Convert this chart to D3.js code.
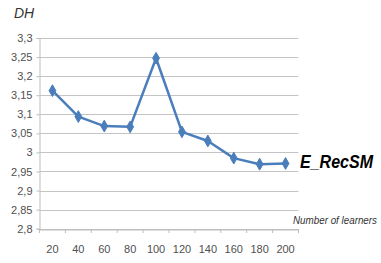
<!DOCTYPE html>
<html>
<head>
<meta charset="utf-8">
<script src="https://cdn.jsdelivr.net/npm/d3@7"></script>
<style>
  body { margin: 0; background: #fff; }
  text { font-family: "Liberation Sans", Arial, sans-serif; fill: #404040; }
</style>
</head>
<body>
<div id="chart"></div>
<script>
// data
var learners = [20, 40, 60, 80, 100, 120, 140, 160, 180, 200];
var dhValues = [3.162, 3.094, 3.069, 3.067, 3.247, 3.054, 3.030, 2.985, 2.969, 2.971];
var yTicks = [2.8, 2.85, 2.9, 2.95, 3, 3.05, 3.1, 3.15, 3.2, 3.25, 3.3];
var seriesName = "E_RecSM";

var width = 381, height = 263;
var plotLeft = 39.5, plotRight = 298.5, plotTop = 38, plotBottom = 228.7;

var svg = d3.select("#chart").append("svg")
    .attr("width", width)
    .attr("height", height);

var x = d3.scaleBand()
    .domain(learners)
    .range([plotLeft, plotRight]);

var y = d3.scaleLinear()
    .domain([2.8, 3.3])
    .range([plotBottom, plotTop]);

var fmt = function(d) { return String(+d.toFixed(2)).replace(".", ","); };

// gridlines
svg.append("g")
  .selectAll("line")
  .data(yTicks)
  .enter().append("line")
    .attr("x1", plotLeft)
    .attr("x2", plotRight)
    .attr("y1", function(d) { return Math.round(y(d)) + 0.5; })
    .attr("y2", function(d) { return Math.round(y(d)) + 0.5; })
    .attr("stroke", "#c4c4c4")
    .attr("stroke-width", 1);

// y axis
var yAxis = svg.append("g")
    .attr("transform", "translate(" + plotLeft + ",0)")
    .call(d3.axisLeft(y).tickValues(yTicks).tickFormat(fmt).tickSize(3).tickPadding(4));
yAxis.select(".domain").attr("stroke", "#bdbdbd");
yAxis.selectAll(".tick line").attr("stroke", "#bdbdbd");
yAxis.selectAll("text")
    .style("font-size", "11px")
    .style("fill", "#505050");

// x axis
var xAxis = svg.append("g")
    .attr("transform", "translate(0," + (Math.round(plotBottom) + 0.5) + ")")
    .call(d3.axisBottom(x).tickSize(0).tickPadding(16));
xAxis.select(".domain").attr("stroke", "#bdbdbd");
xAxis.selectAll("text")
    .style("font-size", "11px")
    .style("fill", "#505050");

// tick marks between categories
svg.append("g")
  .selectAll("line")
  .data(learners.concat(["end"]))
  .enter().append("line")
    .attr("x1", function(d, i) { return i < learners.length ? x(d) : plotRight; })
    .attr("x2", function(d, i) { return i < learners.length ? x(d) : plotRight; })
    .attr("y1", Math.round(plotBottom))
    .attr("y2", Math.round(plotBottom) + 4)
    .attr("stroke", "#bdbdbd");

// series line
var line = d3.line()
    .x(function(d, i) { return x(learners[i]) + x.bandwidth() / 2; })
    .y(function(d) { return y(d); });

svg.append("path")
    .datum(dhValues)
    .attr("d", line)
    .attr("fill", "none")
    .attr("stroke", "#4a7ebb")
    .attr("stroke-width", 2.5)
    .attr("stroke-linejoin", "round");

// diamond markers
svg.append("g")
  .selectAll("path")
  .data(dhValues)
  .enter().append("path")
    .attr("d", d3.symbol().type(d3.symbolDiamond).size(40))
    .attr("transform", function(d, i) {
      return "translate(" + (x(learners[i]) + x.bandwidth() / 2) + "," + y(d) + ")";
    })
    .attr("fill", "#4a7ebb")
    .attr("stroke", "#4a7ebb");

// axis titles
svg.append("text")
    .attr("x", 14)
    .attr("y", 18)
    .style("font-size", "14px")
    .style("font-style", "italic")
    .style("fill", "#333")
    .text("DH");

svg.append("text")
    .attr("x", 293)
    .attr("y", 224)
    .attr("textLength", 84)
    .attr("lengthAdjust", "spacingAndGlyphs")
    .style("font-size", "10px")
    .style("font-style", "italic")
    .style("fill", "#333")
    .text("Number of learners");

// series label
svg.append("text")
    .attr("x", 300)
    .attr("y", 168)
    .attr("textLength", 73)
    .attr("lengthAdjust", "spacingAndGlyphs")
    .style("font-size", "18px")
    .style("font-style", "italic")
    .style("font-weight", "bold")
    .style("fill", "#000")
    .text(seriesName);
</script>
</body>
</html>
